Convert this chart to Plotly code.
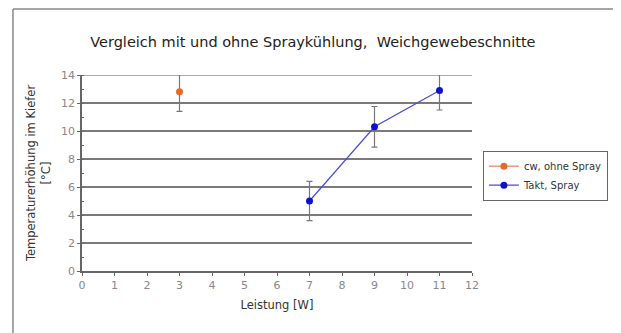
import plotly.graph_objects as go

title = "Vergleich mit und ohne Spraykühlung,  Weichgewebeschnitte"
s1_name = "cw, ohne Spray"
s1_x = [3]
s1_y = [12.8]
s1_err = [1.4]

s2_name = "Takt, Spray"
s2_x = [7, 9, 11]
s2_y = [5.0, 10.3, 12.9]
s2_err = [1.4, 1.45, 1.4]

x_ticks = list(range(0, 13))
y_ticks = list(range(0, 15, 2))

fig = go.Figure()
fig.add_trace(go.Scatter(
    x=s1_x, y=s1_y, name=s1_name, mode="lines+markers",
    line=dict(color="#e8692d", width=1),
    marker=dict(color="#e8692d", size=7),
    error_y=dict(type="data", array=s1_err, color="#777", thickness=1.2, width=3),
))
fig.add_trace(go.Scatter(
    x=s2_x, y=s2_y, name=s2_name, mode="lines+markers",
    line=dict(color="#4a4ad8", width=1.2),
    marker=dict(color="#1010d0", size=7),
    error_y=dict(type="data", array=s2_err, color="#777", thickness=1.2, width=3),
))

font = "DejaVu Sans, Verdana, sans-serif"
fig.update_layout(
    width=613, height=325,
    margin=dict(l=74, r=149, t=67, b=62),
    paper_bgcolor="white", plot_bgcolor="white",
    font=dict(family=font, color="#333"),
    title=dict(text=title, x=0.592, xref="paper", y=0.895, yref="container",
               xanchor="center", yanchor="middle",
               font=dict(size=14.5, color="#222", family=font)),
    showlegend=True,
    legend=dict(x=1.028, y=0.614, xanchor="left", yanchor="top",
                bordercolor="#666", borderwidth=1, bgcolor="white",
                font=dict(size=10, color="#333"), itemwidth=30,
                tracegroupgap=0),
    shapes=[
        dict(type="line", xref="paper", yref="paper", x0=-0.177, x1=1.5,
             y0=1.337, y1=1.337, line=dict(color="#888", width=1.5)),
        dict(type="line", xref="paper", yref="paper", x0=-0.177, x1=-0.177,
             y0=1.337, y1=-0.4, line=dict(color="#888", width=1.5)),
        dict(type="line", xref="paper", yref="y", x0=0, x1=1,
             y0=y_ticks[-1], y1=y_ticks[-1], layer="below",
             line=dict(color="#aaa", width=2)),
    ],
)
fig.update_xaxes(
    range=[0, 12], tickvals=x_ticks, ticktext=[str(v) for v in x_ticks],
    showgrid=False, zeroline=False, showline=True, linecolor="#666", linewidth=1.5,
    ticks="outside", ticklen=3, tickcolor="#666",
    tickfont=dict(size=11, color="#888"),
    title=dict(text="Leistung [W]", font=dict(size=11.5, color="#333"), standoff=10),
)
fig.update_yaxes(
    range=[0, 14], tickvals=y_ticks, ticktext=[str(v) for v in y_ticks],
    showgrid=True, gridcolor="#7a7a7a", gridwidth=1.5,
    zeroline=False, showline=True, linecolor="#666", linewidth=1.5,
    ticks="outside", ticklen=3, tickcolor="#666",
    minor=dict(dtick=1, ticks="inside", ticklen=2, tickcolor="#666", showgrid=False),
    tickfont=dict(size=11, color="#888"),
    title=dict(text="Temperaturerhöhung im Kiefer<br>[°C]", font=dict(size=11.5, color="#333"), standoff=8),
)

fig.write_html("out.html")
